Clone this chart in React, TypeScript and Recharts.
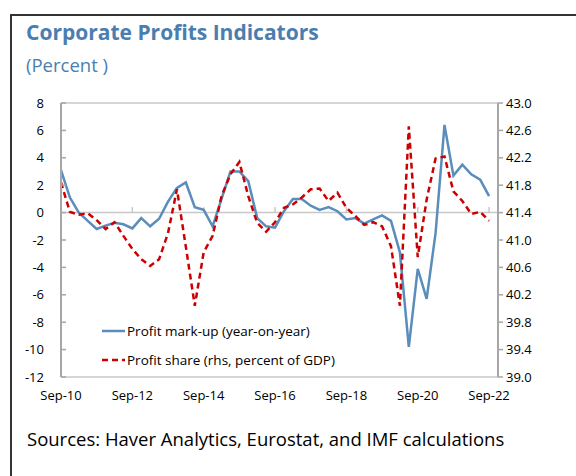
import { LineChart, Line, XAxis, YAxis, ReferenceLine } from "recharts"

const quarters = [
  "Sep-10", "Dec-10", "Mar-11", "Jun-11", "Sep-11", "Dec-11", "Mar-12", "Jun-12",
  "Sep-12", "Dec-12", "Mar-13", "Jun-13", "Sep-13", "Dec-13", "Mar-14", "Jun-14",
  "Sep-14", "Dec-14", "Mar-15", "Jun-15", "Sep-15", "Dec-15", "Mar-16", "Jun-16",
  "Sep-16", "Dec-16", "Mar-17", "Jun-17", "Sep-17", "Dec-17", "Mar-18", "Jun-18",
  "Sep-18", "Dec-18", "Mar-19", "Jun-19", "Sep-19", "Dec-19", "Mar-20", "Jun-20",
  "Sep-20", "Dec-20", "Mar-21", "Jun-21", "Sep-21", "Dec-21", "Mar-22", "Jun-22",
  "Sep-22",
]

// Profit mark-up, year-on-year, lhs
const markup = [
  3.1, 1.1, 0.0, -0.6, -1.2, -0.95, -0.75, -0.85,
  -1.15, -0.4, -1.0, -0.45, 0.8, 1.8, 2.2, 0.4,
  0.2, -1.0, 1.0, 3.0, 3.0, 2.3, -0.4, -1.0,
  -1.1, 0.1, 1.0, 1.0, 0.5, 0.2, 0.4, 0.1,
  -0.5, -0.4, -0.8, -0.5, -0.2, -0.6, -2.9, -9.8,
  -4.1, -6.3, -1.5, 6.4, 2.7, 3.5, 2.8, 2.4,
  1.2,
]

// Profit share, percent of GDP, rhs
const profitShare = [
  41.84, 41.41, 41.37, 41.39, 41.29, 41.16, 41.26, 41.06,
  40.87, 40.72, 40.62, 40.72, 41.1, 41.74, 40.9, 40.04,
  40.82, 41.06, 41.64, 41.96, 42.14, 41.64, 41.25, 41.12,
  41.26, 41.47, 41.52, 41.62, 41.74, 41.75, 41.57, 41.69,
  41.47, 41.35, 41.22, 41.26, 41.2, 40.91, 40.04, 42.66,
  40.75, 41.59, 42.19, 42.22, 41.71, 41.57, 41.38, 41.41,
  41.28,
]

const xTicks = [0, 8, 16, 24, 32, 40, 48]
const leftTicks = [8, 6, 4, 2, 0, -2, -4, -6, -8, -10, -12]
const rightTicks = [43.0, 42.6, 42.2, 41.8, 41.4, 41.0, 40.6, 40.2, 39.8, 39.4, 39.0]

const legendItems = [
  { label: "Profit mark-up (year-on-year)", color: "#5A8DBB", dash: undefined },
  { label: "Profit share (rhs, percent of GDP)", color: "#CC0000", dash: "6 4" },
]

const data = quarters.map((q, i) => ({
  i,
  q,
  markup: markup[i],
  share: profitShare[i],
}))

const axisGray = "#A6A6A6"
const lightGray = "#C8C8C8"

function LeftTick(props: any) {
  const { x, y, payload } = props
  return (
    <g>
      <line x1={x} y1={y} x2={x + 5} y2={y} stroke={axisGray} strokeWidth={1.5} />
      <text x={x - 17} y={y} dy="0.35em" textAnchor="end" fontSize={13} fill="#000">
        {payload.value}
      </text>
    </g>
  )
}

function ChartLegend() {
  return (
    <div style={{ position: "absolute", left: 102, top: 316 }}>
      {legendItems.map((item) => (
        <div key={item.label} style={{ display: "flex", alignItems: "center", height: 29 }}>
          <svg width={24} height={10}>
            <line
              x1={0}
              y1={5}
              x2={23}
              y2={5}
              stroke={item.color}
              strokeWidth={2.5}
              strokeDasharray={item.dash}
            />
          </svg>
          <span style={{ fontSize: 13.5, color: "#000", marginLeft: 1 }}>{item.label}</span>
        </div>
      ))}
    </div>
  )
}

export default function App() {
  return (
    <div
      style={{
        position: "absolute",
        left: 0,
        top: 0,
        width: 576,
        height: 476,
        overflow: "hidden",
        background: "#fff",
        fontFamily: "'Open Sans', sans-serif",
      }}
    >
      <div
        style={{
          position: "absolute",
          left: 10,
          top: 14,
          width: 600,
          height: 500,
          borderLeft: "2px solid #333",
          borderTop: "2px solid #333",
        }}
      />
      <div
        style={{
          position: "absolute",
          left: 26,
          top: 18,
          fontSize: 21,
          fontWeight: 700,
          color: "#4A7EB0",
        }}
      >
        Corporate Profits Indicators
      </div>
      <div style={{ position: "absolute", left: 26, top: 52, fontSize: 18.5, color: "#4A7EB0" }}>
        (Percent )
      </div>

      <div style={{ position: "absolute", left: 0, top: 0 }}>
        <LineChart
          width={576}
          height={476}
          data={data}
          margin={{ top: 103, right: 0, bottom: 69, left: 0 }}
        >
          <XAxis
            dataKey="i"
            type="number"
            domain={[0, 49]}
            ticks={xTicks}
            tickFormatter={(v: number) => quarters[v]}
            interval={0}
            height={30}
            axisLine={{ stroke: lightGray, strokeWidth: 1.5 }}
            tickLine={false}
            tickSize={0}
            tickMargin={14}
            tick={{ fontSize: 13, fill: "#000" }}
          />
          <YAxis
            yAxisId="left"
            domain={[-12, 8]}
            ticks={leftTicks}
            interval={0}
            width={61}
            axisLine={{ stroke: axisGray, strokeWidth: 2 }}
            tickLine={false}
            tickSize={0}
            tickMargin={0}
            tick={<LeftTick />}
          />
          <YAxis
            yAxisId="right"
            orientation="right"
            domain={[39, 43]}
            ticks={rightTicks}
            interval={0}
            width={78}
            axisLine={{ stroke: axisGray, strokeWidth: 2 }}
            tickLine={{ stroke: axisGray, strokeWidth: 1.5 }}
            tickSize={5}
            tickMargin={3}
            tickFormatter={(v: number) => v.toFixed(1)}
            tick={{ fontSize: 13, fill: "#000" }}
          />
          <ReferenceLine yAxisId="left" y={8} stroke={lightGray} strokeWidth={1.5} />
          <ReferenceLine yAxisId="left" y={0} stroke={lightGray} strokeWidth={1.5} />
          {xTicks.slice(1).map((t) => (
            <ReferenceLine
              key={t}
              yAxisId="left"
              segment={[
                { x: t, y: 0 },
                { x: t, y: 0.4 },
              ]}
              stroke={lightGray}
              strokeWidth={1.5}
            />
          ))}
          <Line
            yAxisId="left"
            dataKey="markup"
            type="linear"
            stroke="#5A8DBB"
            strokeWidth={2.5}
            dot={false}
            isAnimationActive={false}
          />
          <Line
            yAxisId="right"
            dataKey="share"
            type="linear"
            stroke="#CC0000"
            strokeWidth={2.5}
            strokeDasharray="6 4"
            dot={false}
            isAnimationActive={false}
          />
        </LineChart>
      </div>
      <ChartLegend />

      <div style={{ position: "absolute", left: 27, top: 426, fontSize: 18.5, color: "#000" }}>
        Sources: Haver Analytics, Eurostat, and IMF calculations
      </div>
    </div>
  )
}
